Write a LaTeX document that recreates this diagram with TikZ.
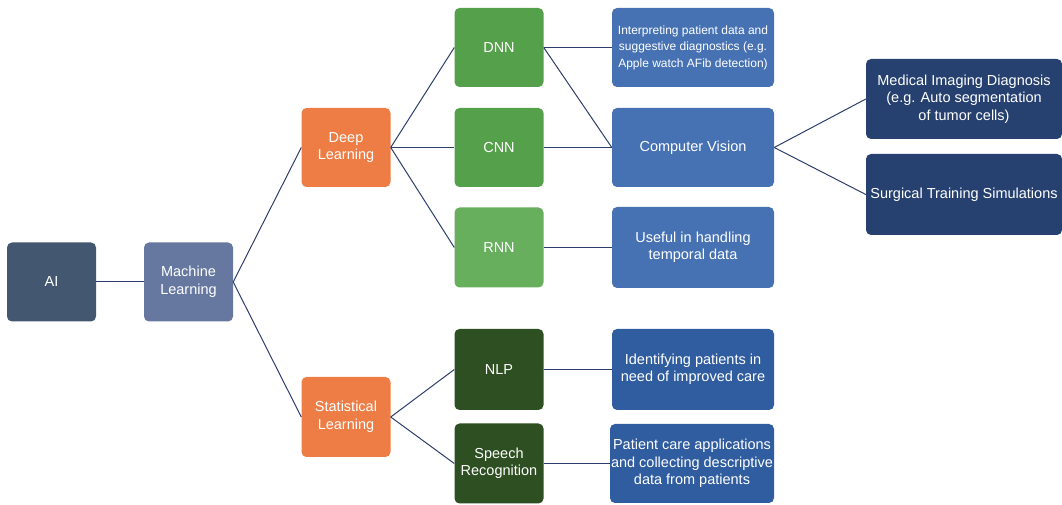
\documentclass[tikz,border=0pt]{standalone}
\usepackage{fontspec}
\setmainfont{Liberation Sans}
\definecolor{aicol}{HTML}{435770}
\definecolor{mlcol}{HTML}{66789F}
\definecolor{orcol}{HTML}{ED7D45}
\definecolor{grcol}{HTML}{55A04A}
\definecolor{ltgrcol}{HTML}{67AE5D}
\definecolor{dkgrcol}{HTML}{2D4F21}
\definecolor{blcol}{HTML}{4672B4}
\definecolor{dkblcol}{HTML}{2F5DA0}
\definecolor{nvcol}{HTML}{26416F}
\definecolor{lncol}{HTML}{2C3E6B}
\tikzstyle{box} = [rounded corners=5pt, text=white, align=center, minimum width=89pt, minimum height=79pt, inner sep=1pt, font=\fontsize{14.5}{17.5}\selectfont]
\tikzstyle{wbox} = [box, minimum width=162pt]
\tikzstyle{xbox} = [box, minimum width=196pt, minimum height=80pt]
\tikzstyle{ln} = [draw=lncol, line width=1pt]

\begin{document}
\begin{tikzpicture}[x=1pt, y=1pt]
  \useasboundingbox (0,0) rectangle (1062,505);
  % first levels
  \node[box, fill=aicol] (ai) at (51.5,223) {AI};
  \node[box, fill=mlcol] (ml) at (188.5,223) {Machine\\Learning};
  \node[box, fill=orcol] (dl) at (346,357.5) {Deep\\Learning};
  \node[box, fill=orcol, minimum height=80pt] (sl) at (346,88) {Statistical\\Learning};
  % networks
  \node[box, fill=grcol] (dnn) at (499,457.5) {DNN};
  \node[box, fill=grcol] (cnn) at (499,357.5) {CNN};
  \node[box, fill=ltgrcol, minimum height=80pt] (rnn) at (499,257.5) {RNN};
  \node[box, fill=dkgrcol, minimum height=81pt] (nlp) at (499,135.5) {NLP};
  \node[box, fill=dkgrcol, minimum height=80pt] (sr) at (499,41.5) {Speech\\Recognition};
  % applications
  \node[wbox, fill=blcol, font=\fontsize{12}{16.5}\selectfont] (ipd) at (693,457.5) {Interpreting patient data and\\suggestive diagnostics (e.g.\\Apple watch AFib detection)};
  \node[wbox, fill=blcol] (cv) at (693,357.5) {Computer Vision};
  \node[wbox, fill=blcol, minimum height=81pt] (td) at (693,257.5) {Useful in handling\\temporal data};
  \node[wbox, fill=dkblcol, minimum height=81pt] (ip) at (693,135.5) {Identifying patients in\\need of improved care};
  \node[wbox, fill=dkblcol, minimum width=164pt] (pc) at (692,41.5) {Patient care applications\\and collecting descriptive\\data from patients};
  \node[xbox, fill=nvcol] (mid) at (964,406) {Medical Imaging Diagnosis\\(e.g. Auto segmentation\\of tumor cells)};
  \node[xbox, fill=nvcol, minimum height=81pt] (sts) at (964,310.5) {Surgical Training Simulations};
  % connectors
  \draw[ln] (ai.east) -- (ml.west);
  \draw[ln] (ml.east) -- (dl.west);
  \draw[ln] (ml.east) -- (sl.west);
  \draw[ln] (dl.east) -- (dnn.west);
  \draw[ln] (dl.east) -- (cnn.west);
  \draw[ln] (dl.east) -- (rnn.west);
  \draw[ln] (sl.east) -- (nlp.west);
  \draw[ln] (sl.east) -- (sr.west);
  \draw[ln] (dnn.east) -- (ipd.west);
  \draw[ln] (dnn.east) -- (cv.west);
  \draw[ln] (cnn.east) -- (cv.west);
  \draw[ln] (rnn.east) -- (td.west);
  \draw[ln] (nlp.east) -- (ip.west);
  \draw[ln] (sr.east) -- (pc.west);
  \draw[ln] (cv.east) -- (mid.west);
  \draw[ln] (cv.east) -- (sts.west);
\end{tikzpicture}
\end{document}
